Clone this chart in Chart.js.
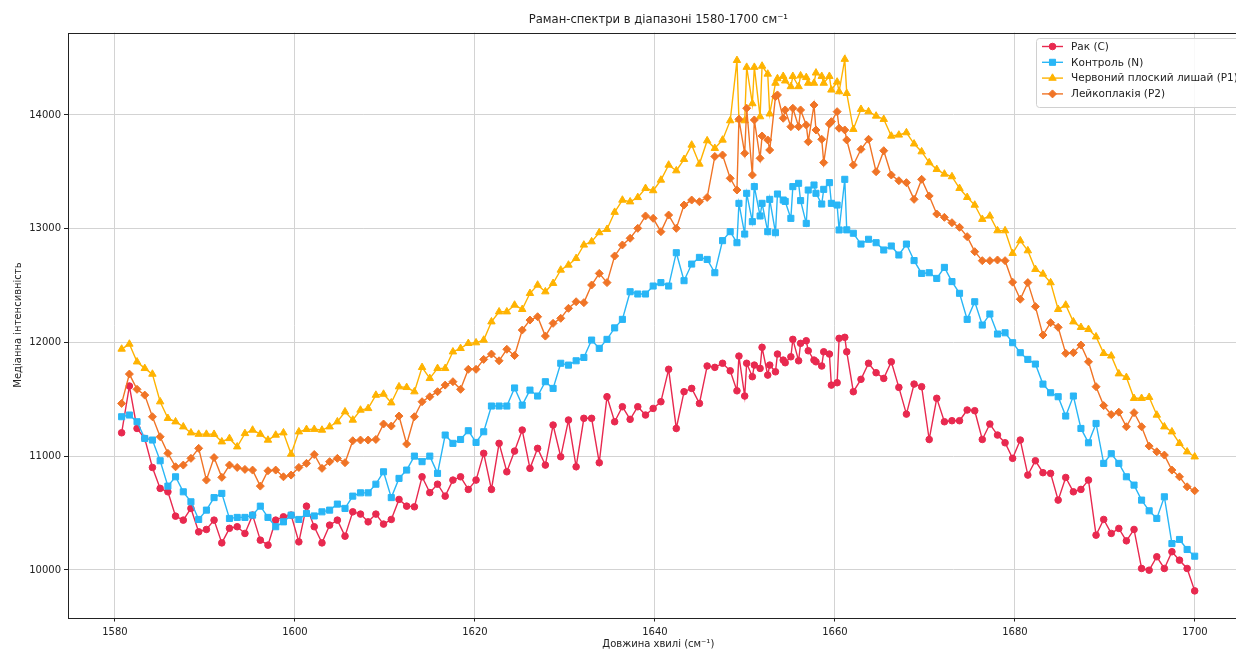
<!DOCTYPE html>
<html>
<head>
<meta charset="utf-8">
<script src="https://cdn.jsdelivr.net/npm/chart.js@4.4.1/dist/chart.umd.min.js"></script>
<style>
  html, body { margin: 0; padding: 0; background: #fff; overflow: hidden; }
  canvas { display: block; }
</style>
</head>
<body>
<canvas id="ramanChart" width="1260" height="650"></canvas>
<script>
// wavenumbers, cm-1 (denser sampling between ~1649 and ~1661)
const wavenumbers = [
  1580.74, 1581.60, 1582.45, 1583.31, 1584.16, 1585.02, 1585.88, 1586.73, 1587.59, 1588.44,
  1589.30, 1590.16, 1591.01, 1591.87, 1592.72, 1593.58, 1594.44, 1595.29, 1596.15, 1597.00,
  1597.86, 1598.72, 1599.57, 1600.43, 1601.28, 1602.14, 1603.00, 1603.85, 1604.71, 1605.56,
  1606.42, 1607.28, 1608.13, 1608.99, 1609.84, 1610.70, 1611.56, 1612.41, 1613.27, 1614.12,
  1614.98, 1615.84, 1616.69, 1617.55, 1618.40, 1619.26, 1620.12, 1620.97, 1621.83, 1622.68,
  1623.54, 1624.40, 1625.25, 1626.11, 1626.96, 1627.82, 1628.68, 1629.53, 1630.39, 1631.24,
  1632.10, 1632.96, 1633.81, 1634.67, 1635.52, 1636.38, 1637.24, 1638.09, 1638.95, 1639.80,
  1640.66, 1641.52, 1642.37, 1643.23, 1644.08, 1644.94, 1645.80, 1646.65, 1647.51, 1648.36,
  1649.11, 1649.33, 1649.97, 1650.19, 1650.82, 1651.04, 1651.68, 1651.90, 1652.53, 1652.75,
  1653.39, 1653.61, 1654.25, 1654.47, 1655.10, 1655.32, 1655.96, 1656.18, 1656.81, 1657.03,
  1657.67, 1657.89, 1658.53, 1658.75, 1659.38, 1659.60, 1660.24, 1660.46, 1661.09, 1661.31,
  1662.04, 1662.89, 1663.73, 1664.57, 1665.42, 1666.26, 1667.10, 1667.94, 1668.79, 1669.63,
  1670.47, 1671.31, 1672.16, 1673.00, 1673.84, 1674.69, 1675.53, 1676.37, 1677.21, 1678.06,
  1678.90, 1679.74, 1680.59, 1681.43, 1682.27, 1683.11, 1683.96, 1684.80, 1685.64, 1686.49,
  1687.33, 1688.17, 1689.01, 1689.86, 1690.70, 1691.54, 1692.38, 1693.23, 1694.07, 1694.91,
  1695.76, 1696.60, 1697.44, 1698.28, 1699.13, 1699.97
];

const cancer = [
  11206, 11617, 11244, 11156, 10901, 10717, 10687, 10473, 10438, 10541,
  10335, 10356, 10438, 10238, 10366, 10380, 10321, 10482, 10262, 10218,
  10438, 10467, 10482, 10247, 10561, 10380, 10238, 10394, 10438, 10297,
  10511, 10491, 10423, 10491, 10403, 10444, 10620, 10561, 10555, 10819,
  10680, 10754, 10649, 10790, 10819, 10708, 10790, 11025, 10708, 11113,
  10863, 11045, 11230, 10893, 11069, 10922, 11274, 10995, 11318, 10907,
  11333, 11333, 10943, 11523, 11303, 11435, 11324, 11435, 11362, 11420,
  11479, 11764, 11244, 11567, 11596, 11464, 11793, 11781, 11817, 11751,
  11575, 11880, 11529, 11817, 11699, 11801, 11772, 11957, 11713, 11801,
  11742, 11898, 11845, 11822, 11874, 12027, 11839, 11992, 12015, 11927,
  11845, 11830, 11793, 11918, 11898, 11625, 11646, 12036, 12045, 11918,
  11567, 11676, 11817, 11734, 11684, 11830, 11605, 11370, 11634, 11611,
  11147, 11509, 11303, 11312, 11312, 11406, 11400, 11147, 11283, 11186,
  11118, 10981, 11142, 10834, 10960, 10855, 10849, 10614, 10813, 10687,
  10708, 10790, 10306, 10444, 10321, 10365, 10256, 10356, 10013, 9998,
  10116, 10013, 10160, 10086, 10013, 9816
];

const control = [
  11347, 11362, 11303, 11156, 11142, 10960, 10737, 10819, 10687, 10599,
  10444, 10526, 10636, 10673, 10453, 10462, 10462, 10482, 10561, 10462,
  10380, 10423, 10482, 10444, 10497, 10475, 10511, 10526, 10579, 10541,
  10649, 10678, 10678, 10754, 10863, 10636, 10805, 10878, 11001, 10952,
  11001, 10849, 11186, 11113, 11147, 11224, 11121, 11215, 11441, 11441,
  11441, 11600, 11449, 11581, 11529, 11655, 11596, 11817, 11801, 11839,
  11868, 12021, 11948, 12027, 12128, 12203, 12446, 12426, 12426, 12496,
  12526, 12496, 12789, 12543, 12689, 12748, 12730, 12613, 12895, 12974,
  12877, 13223, 12953, 13311, 13062, 13370, 13112, 13223, 12974, 13258,
  12965, 13305, 13252, 13240, 13091, 13370, 13399, 13247, 13047, 13340,
  13384, 13311, 13217, 13346, 13405, 13223, 13208, 12989, 13434, 12990,
  12960, 12865, 12907, 12877, 12813, 12848, 12769, 12865, 12720, 12607,
  12613, 12563, 12660, 12535, 12432, 12203, 12358, 12153, 12250, 12074,
  12085, 11998, 11910, 11851, 11810, 11634, 11558, 11523, 11353, 11529,
  11244, 11118, 11288, 10937, 11022, 10937, 10819, 10746, 10614, 10520,
  10453, 10643, 10232, 10268, 10180, 10121
];

const lichen = [
  11942, 11986, 11830, 11772, 11722, 11479, 11333, 11303, 11259, 11206,
  11194, 11194, 11193, 11127, 11156, 11083, 11200, 11230, 11194, 11142,
  11186, 11206, 11019, 11215, 11236, 11237, 11230, 11259, 11303, 11391,
  11318, 11406, 11420, 11537, 11546, 11470, 11611, 11605, 11567, 11781,
  11684, 11772, 11772, 11918, 11948, 11992, 11998, 12021, 12182, 12270,
  12270, 12329, 12291, 12432, 12505, 12446, 12520, 12637, 12681, 12739,
  12857, 12886, 12966, 12995, 13145, 13252, 13237, 13275, 13355, 13335,
  13428, 13560, 13510, 13610, 13736, 13569, 13774, 13707, 13780, 13950,
  14480, 13960, 13950, 14420, 14100, 14420, 13985, 14430, 14360, 14010,
  14280, 14320, 14340, 14300, 14250, 14340, 14250, 14345, 14330, 14280,
  14280, 14370, 14340, 14280, 14340, 14220, 14290, 14205, 14490, 14190,
  13874, 14050, 14029, 13991, 13962, 13815, 13824, 13845, 13746, 13677,
  13581, 13522, 13481, 13458, 13355, 13276, 13208, 13083, 13112, 12983,
  12983, 12784, 12895, 12807, 12643, 12602, 12526, 12291, 12329, 12182,
  12133, 12115, 12050, 11904, 11882, 11725, 11693, 11509, 11509, 11518,
  11362, 11259, 11215, 11113, 11039, 10995
];

const leuko = [
  11464, 11722, 11588, 11537, 11347, 11171, 11025, 10907, 10922, 10981,
  11069, 10790, 10988, 10814, 10922, 10901, 10884, 10878, 10737, 10872,
  10878, 10819, 10834, 10901, 10937, 11015, 10893, 10952, 10981, 10943,
  11136, 11142, 11142, 11147, 11283, 11265, 11353, 11107, 11347, 11479,
  11523, 11567, 11625, 11655, 11588, 11764, 11764, 11851, 11898, 11839,
  11940, 11885, 12109, 12197, 12226, 12056, 12168, 12212, 12300, 12358,
  12350, 12505, 12607, 12526, 12760, 12857, 12916, 13003, 13112, 13091,
  12974, 13120, 13003, 13208, 13252, 13237, 13275, 13635, 13648, 13443,
  13340, 13962, 13663, 14059, 13472, 13956, 13619, 13815, 13780, 13692,
  14161, 14176, 13971, 14044, 13897, 14059, 13897, 14044, 13912, 13765,
  14088, 13868, 13786, 13581, 13921, 13941, 14029, 13883, 13868, 13780,
  13560, 13698, 13786, 13501, 13686, 13472, 13422, 13405, 13258, 13434,
  13288, 13129, 13100, 13053, 13012, 12930, 12798, 12719, 12719, 12725,
  12719, 12530, 12380, 12526, 12315, 12065, 12174, 12133, 11904, 11910,
  11977, 11830, 11611, 11445, 11366, 11387, 11259, 11383, 11259, 11089,
  11039, 11010, 10878, 10819, 10731, 10696
];

const seriesNames = ['Рак (C)', 'Контроль (N)', 'Червоний плоский лишай (P1)', 'Лейкоплакія (P2)'];
const chartTitle = 'Раман-спектри в діапазоні 1580-1700 см⁻¹';
const xTicks = [1580, 1600, 1620, 1640, 1660, 1680, 1700];
const yTicks = [10000, 11000, 12000, 13000, 14000];

const font = 'DejaVu Sans';

function toPoints(values) {
  return values.map((v, i) => ({ x: wavenumbers[i], y: v }));
}

function makeSet(label, values, color, style, radius, order) {
  return {
    label: label,
    data: toPoints(values),
    borderColor: color,
    backgroundColor: color,
    borderWidth: 1.4,
    pointStyle: style,
    pointRadius: radius,
    pointBorderWidth: 1,
    pointBackgroundColor: color,
    pointBorderColor: color,
    tension: 0,
    order: order
  };
}

// axes frame drawn on top, like matplotlib spines
const frame = {
  id: 'frame',
  afterDatasetsDraw(chart) {
    const a = chart.chartArea;
    const ctx = chart.ctx;
    ctx.save();
    ctx.strokeStyle = '#222';
    ctx.lineWidth = 1;
    ctx.strokeRect(Math.round(a.left) + 0.5, Math.round(a.top) + 0.5, a.right - a.left, Math.round(a.bottom - a.top));
    ctx.restore();
  }
};

// title centred over the axes, not the whole canvas
const axesTitle = {
  id: 'axesTitle',
  afterDraw(chart) {
    const a = chart.chartArea;
    const ctx = chart.ctx;
    ctx.save();
    ctx.font = '11.6px "' + font + '"';
    ctx.fillStyle = '#222';
    ctx.textAlign = 'center';
    ctx.textBaseline = 'middle';
    ctx.fillText(chartTitle, (a.left + a.right) / 2, 20);
    ctx.restore();
  }
};

// matplotlib-style legend (line + marker)
const legendBox = {
  id: 'legendBox',
  afterDraw(chart) {
    const ctx = chart.ctx;
    const x0 = 1036, y0 = 38, w = 208, h = 69;
    ctx.save();
    ctx.fillStyle = 'rgba(255,255,255,0.85)';
    ctx.strokeStyle = '#d0d0d0';
    ctx.lineWidth = 1;
    ctx.beginPath();
    ctx.roundRect(x0 + 0.5, y0 + 0.5, w, h, 3);
    ctx.fill();
    ctx.stroke();
    ctx.font = '10.5px "' + font + '"';
    ctx.textBaseline = 'middle';
    chart.data.datasets.forEach((ds, i) => {
      const yy = y0 + 8.5 + i * 15.8;
      ctx.strokeStyle = ds.borderColor;
      ctx.lineWidth = ds.borderWidth;
      ctx.beginPath();
      ctx.moveTo(x0 + 6, yy);
      ctx.lineTo(x0 + 27, yy);
      ctx.stroke();
      ctx.fillStyle = ds.backgroundColor;
      ctx.lineWidth = 1;
      Chart.helpers.drawPoint(ctx, { pointStyle: ds.pointStyle, radius: ds.pointRadius, rotation: 0, borderWidth: 1 }, x0 + 16.5, yy);
      ctx.fillStyle = '#222';
      ctx.fillText(ds.label, x0 + 35, yy + 0.5);
    });
    ctx.restore();
  }
};

const ctx = document.getElementById('ramanChart').getContext('2d');
const ramanChart = new Chart(ctx, {
  type: 'line',
  data: {
    datasets: [
      makeSet(seriesNames[0], cancer, '#E8294F', 'circle', 3.3, 4),
      makeSet(seriesNames[1], control, '#29B6F6', 'rect', 4.3, 3),
      makeSet(seriesNames[2], lichen, '#FFB300', 'triangle', 4.3, 2),
      makeSet(seriesNames[3], leuko, '#F07426', 'rectRot', 4, 1)
    ]
  },
  options: {
    responsive: false,
    devicePixelRatio: 1,
    animation: false,
    events: [],
    layout: { padding: { left: 0, right: 11.4, top: 32.6, bottom: 0 } },
    plugins: {
      legend: { display: false },
      tooltip: { enabled: false },
      title: { display: false }
    },
    scales: {
      x: {
        type: 'linear',
        min: 1574.78,
        max: 1705.96,
        afterBuildTicks: s => { s.ticks = xTicks.map(v => ({ value: v })); },
        afterFit: s => { s.height = 32.5; },
        grid: { color: '#d3d3d3', lineWidth: 1, tickLength: 4, tickColor: '#222', drawTicks: true },
        border: { display: false },
        ticks: { color: '#222', font: { family: font, size: 10 }, padding: 5, maxRotation: 0, callback: v => String(v) },
        title: { display: true, text: 'Довжина хвилі (см⁻¹)', color: '#222', font: { family: font, size: 10 }, padding: { top: 0, bottom: 0 } }
      },
      y: {
        type: 'linear',
        min: 9582,
        max: 14724,
        afterBuildTicks: s => { s.ticks = yTicks.map(v => ({ value: v })); },
        afterFit: s => { s.width = 68; },
        grid: { color: '#d3d3d3', lineWidth: 1, tickLength: 4, tickColor: '#222', drawTicks: true },
        border: { display: false },
        ticks: { color: '#222', font: { family: font, size: 10 }, padding: 3, callback: v => String(v) },
        title: { display: true, text: 'Медіанна інтенсивність', color: '#222', font: { family: font, size: 10 }, padding: { top: 12, bottom: 0 } }
      }
    }
  },
  plugins: [frame, axesTitle, legendBox]
});
</script>
</body>
</html>
